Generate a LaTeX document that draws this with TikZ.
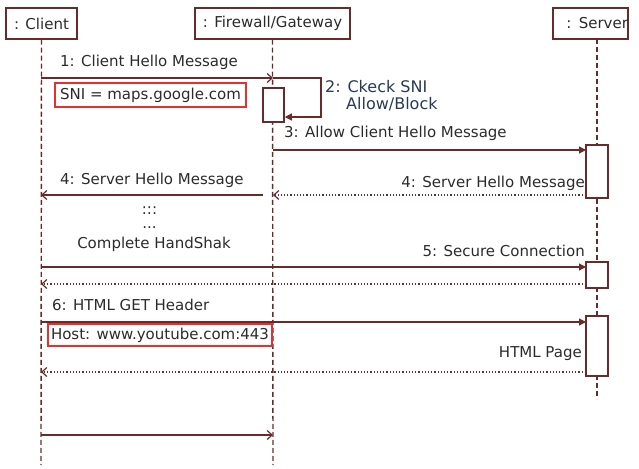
\documentclass[tikz,border=0pt]{standalone}
\usepackage{fontspec}
\setmainfont{DejaVu Sans}
\usepackage{tikz}
\usetikzlibrary{arrows.meta}
\usetikzlibrary{calc}

\definecolor{seqline}{HTML}{6B2A2A}
\definecolor{seqtext}{HTML}{2B2B2B}
\definecolor{seqnote}{HTML}{E53030}
\definecolor{seqself}{HTML}{2A3A55}

\begin{document}
\begin{tikzpicture}[x=1pt,y=-1pt,
  every node/.style={text=seqtext,inner sep=0pt,font=\fontsize{15}{17}\selectfont},
  obj/.style={draw=seqline,line width=1.5pt,fill=white,minimum height=31pt},
  life/.style={seqline,line width=1.4pt,dash pattern=on 5pt off 3pt},
  act/.style={draw=seqline,line width=1.5pt,fill=white,minimum width=22pt},
  call/.style={seqline,line width=1.2pt,-{Triangle[length=7pt,width=7pt]}},
  msg/.style={seqline,line width=1.2pt,-{Straight Barb[length=5pt,width=9pt]}},
  reply/.style={seqline,line width=1.2pt,dash pattern=on 1.2pt off 2pt,-{Straight Barb[length=5pt,width=9pt]}},
  note/.style={draw=seqnote,line width=1.2pt}]
\useasboundingbox (0,0) rectangle (639,468);

% objects and lifelines
\node[obj,minimum width=71pt] (client) at (41.5,23.5) {: Client};
\node[obj,minimum width=155pt] (fw) at (272.5,23.5) {: Firewall/Gateway};
\node[obj,text width=75pt,align=right] (server) at (590.5,23.5) {: Server};
\draw[life] (client.south) -- (41,465);
\draw[life] (fw.south) -- (273,465);
\draw[life] (597,39) -- (597,399);

% activations
\node[act,minimum width=21pt,minimum height=34pt] (fwact) at (273.5,105) {};
\node[act,minimum height=53pt] (sact1) at (597,171.5) {};
\node[act,minimum height=26pt] (sact2) at (597,275) {};
\node[act,minimum height=60pt] (sact3) at (597,346) {};

\foreach \n/\y in {a/78,b/117,c/150,d/195,e/267,f/284,g/322,h/372,i/435}{
  \coordinate (c\n) at (41,\y);
  \coordinate (f\n) at (273,\y);
  \coordinate (s\n) at (586,\y);
}
\coordinate (loop) at (321,117);

% messages
\draw[msg] (ca) -- (fa);
\draw[call] (fa) -| (loop) -- (fwact.east |- loop);
\draw[call] (fc) -- (sc);
\draw[reply] (sd) -- (fd);
\draw[msg] ($(fd)+(-10,0)$) -- (cd);
\draw[call] (ce) -- (se);
\draw[reply] (sf) -- (cf);
\draw[call] (cg) -- (sg);
\draw[reply] (sh) -- (ch);
\draw[msg] (ci) -- (fi);

% labels
\node[anchor=base west] (l1) at (60,67) {1: Client Hello Message};
\node[note,minimum width=191pt,minimum height=24pt] (sni) at (150.5,95) {SNI = maps.google.com};
\node[anchor=north west,align=left,text=seqself,font=\fontsize{16}{17}\selectfont] (l2) at (325,80) {2: Ckeck SNI\\\hspace{21pt}Allow/Block};
\node[anchor=base west] (l3) at (284,137) {3: Allow Client Hello Message};
\node[anchor=base east] (l4r) at (585,187) {4: Server Hello Message};
\node[anchor=base west] (l4l) at (60,184) {4: Server Hello Message};
\node[anchor=base] (dots1) at (149.5,214) {:::};
\node[anchor=base] (dots2) at (149.5,228) {...};
\node[anchor=base] (hs) at (154,248) {Complete HandShak};
\node[anchor=base east] (l5) at (585,256) {5: Secure Connection};
\node[anchor=base west] (l6) at (52,310) {6: HTML GET Header};
\node[note,minimum width=224pt,minimum height=22pt] (host) at (160,335) {Host: www.youtube.com:443};
\node[anchor=base east] (page) at (582,357) {HTML Page};
\end{tikzpicture}
\end{document}
